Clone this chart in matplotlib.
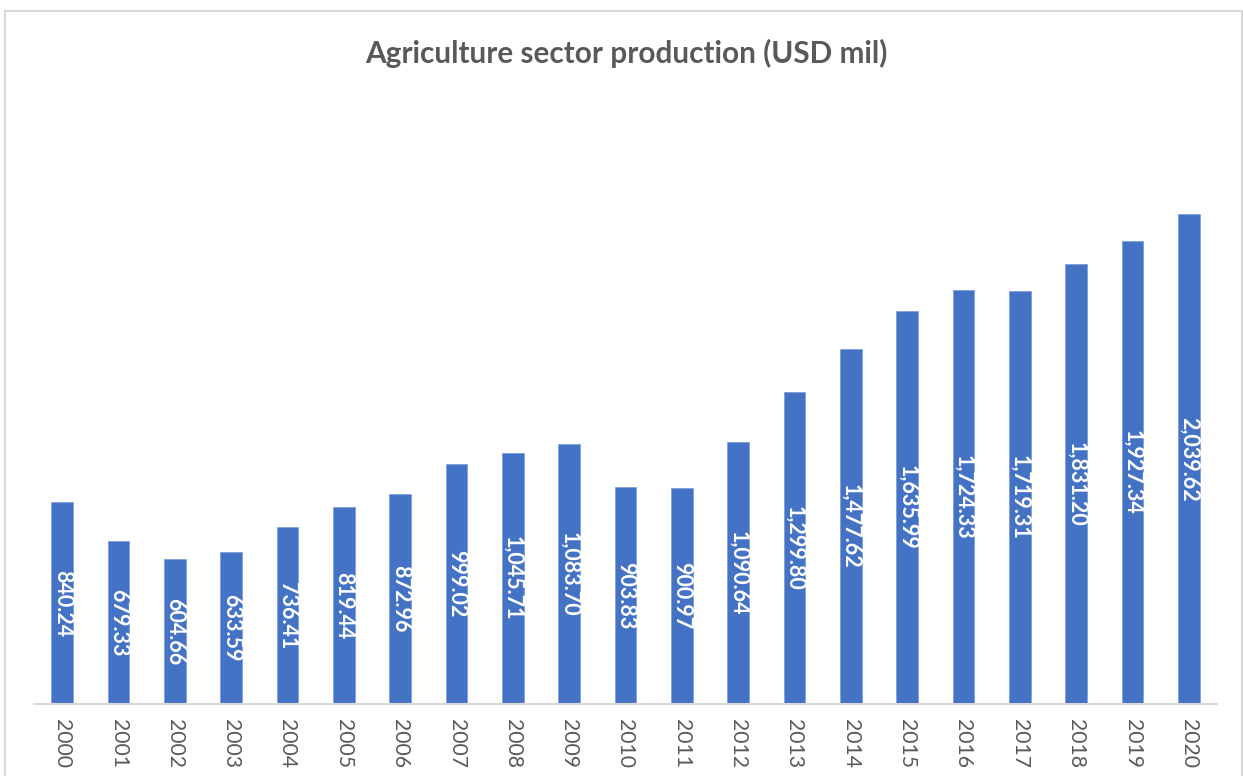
"""Column chart of annual agriculture sector production, 2000-2020."""

import matplotlib

matplotlib.use("Agg")
import matplotlib.pyplot as plt
from matplotlib.patches import Rectangle

YEARS = [str(y) for y in range(2000, 2021)]
PRODUCTION = [
    840.24, 679.33, 604.66, 633.59, 736.41, 819.44, 872.96, 999.02, 1045.71,
    1083.70, 903.83, 900.97, 1090.64, 1299.80, 1477.62, 1635.99, 1724.33,
    1719.31, 1831.20, 1927.34, 2039.62,
]
TITLE = "Agriculture sector production (USD mil)"

BAR_COLOR = "#4472C4"
TEXT_GREY = "#595959"

plt.rcParams["font.family"] = ["Lato", "DejaVu Sans"]

W, H = 1243, 776
fig = plt.figure(figsize=(W / 100, H / 100), dpi=100)
fig.patch.set_facecolor("white")

# chart frame
fig.patches.append(
    Rectangle((4.5 / W, -0.05), (1242 - 4.5) / W, 1.05 - 11.5 / H,
              transform=fig.transFigure, fill=False,
              edgecolor="#D9D9D9", linewidth=1.5, zorder=0)
)

ax = fig.add_axes([34 / W, (H - 704) / H, (1217 - 34) / W, 600.5 / H])
positions = list(range(len(YEARS)))
ax.bar(positions, PRODUCTION, width=0.39, color=BAR_COLOR,
       edgecolor="#7F9FDA", linewidth=0.6, zorder=2)

for pos, val in zip(positions, PRODUCTION):
    ax.text(pos, val / 2, f"{val:,.2f}", rotation=270, ha="center",
            va="center", color="white", fontsize=15.5, fontweight="bold",
            rotation_mode="anchor", zorder=3)

ax.set_xlim(-0.5, 20.5)
ax.set_ylim(0, 2500)
ax.set_xticks(positions)
ax.set_xticklabels(YEARS, rotation=270, fontsize=15.2, color=TEXT_GREY,
                   va="top", ha="center")
ax.tick_params(axis="x", length=0, pad=11)
ax.set_yticks([])
for side in ("top", "right", "left"):
    ax.spines[side].set_visible(False)
ax.spines["bottom"].set_color("#D9D9D9")
ax.spines["bottom"].set_linewidth(1.5)

fig.text(626 / W, 1 - 53 / H, TITLE, ha="center", va="center",
         fontsize=21.4, fontweight="bold", color=TEXT_GREY)

fig.savefig("out.png", dpi=100)
